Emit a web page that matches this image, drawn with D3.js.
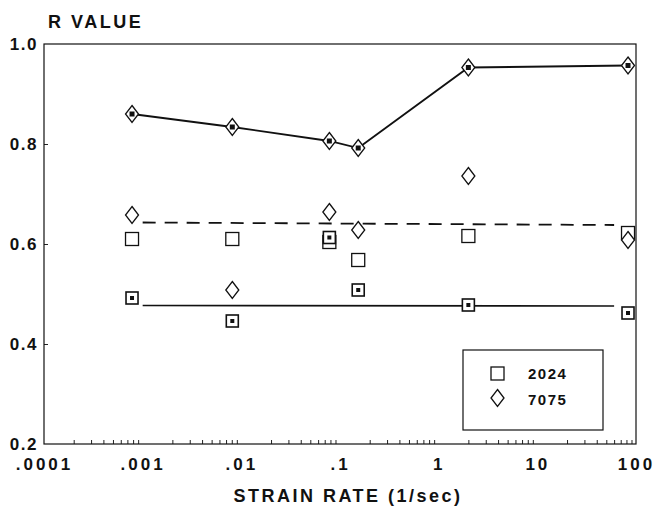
<!DOCTYPE html>
<html>
<head>
<meta charset="utf-8">
<script src="https://cdn.jsdelivr.net/npm/d3@7"></script>
<style>
  body { margin: 0; background: #fff; }
  svg text { font-family: "Liberation Sans", Arial, sans-serif; font-weight: bold; fill: #111; }
</style>
</head>
<body>
<svg id="chart" width="655" height="506"></svg>
<script>

// strain rate (1/sec) of each test group
var strainRate = [0.00078, 0.0081, 0.078, 0.153, 2.0, 83];

// R values
var r7075Upper = [0.86, 0.834, 0.806, 0.792, 0.953, 0.957];
var r7075Lower = [0.658, 0.508, 0.664, 0.628, 0.736, 0.608];
var r2024Upper = [0.61, 0.61, 0.604, 0.568, 0.616, 0.622];
var r2024Lower = [0.492, 0.446, 0.613, 0.508, 0.478, 0.462];

// average lines
var meanX = [0.001, 60];
var mean7075 = [0.643, 0.638];
var mean2024 = [0.477, 0.476];

var xTicks = [0.0001, 0.001, 0.01, 0.1, 1, 10, 100];
var xTickLabels = [".0001", ".001", ".01", ".1", "1", "10", "100"];
var yTicks = [0.2, 0.4, 0.6, 0.8, 1.0];

var legendItems = ["2024", "7075"];

var svg = d3.select("#chart");

var x = d3.scaleLog().domain([0.0001, 100]).range([44, 636]);
var y = d3.scaleLinear().domain([0.2, 1.0]).range([444, 44]);

// minor ticks 2..9 per decade
var minorTicks = [];
xTicks.slice(0, -1).forEach(function(d) {
	for (var k = 2; k <= 9; k++) minorTicks.push(d * k);
});

svg.append("g")
	.attr("transform", "translate(0,444)")
	.call(d3.axisBottom(x).tickValues(minorTicks).tickSize(-4).tickFormat(""))
	.call(function(g) {
		g.select(".domain").remove();
		g.selectAll("line").attr("stroke", "#222");
	});

svg.append("g")
	.attr("transform", "translate(0,444)")
	.call(d3.axisBottom(x).tickValues(xTicks).tickSize(0).tickPadding(14)
		.tickFormat(function(d, i) { return xTickLabels[i]; }))
	.call(function(g) {
		g.select(".domain").remove();
		g.selectAll("text").attr("font-size", 17).attr("letter-spacing", 3)
			.attr("font-family", "Liberation Sans, Arial, sans-serif").attr("font-weight", "bold");
	});

svg.append("g")
	.attr("transform", "translate(44,0)")
	.call(d3.axisLeft(y).tickValues(yTicks).tickSize(-4).tickPadding(6).tickFormat(d3.format(".1f")))
	.call(function(g) {
		g.select(".domain").remove();
		g.selectAll("line").attr("stroke", "#222")
			.filter(function(d) { return d == 0.2 || d == 1.0; }).remove();
		g.selectAll("text").attr("font-size", 17).attr("letter-spacing", 1.5)
			.attr("font-family", "Liberation Sans, Arial, sans-serif").attr("font-weight", "bold");
	});

// frame
svg.append("rect")
	.attr("x", x(0.0001)).attr("y", y(1.0))
	.attr("width", x(100) - x(0.0001)).attr("height", y(0.2) - y(1.0))
	.attr("fill", "none").attr("stroke", "#111").attr("stroke-width", 1.2);

svg.append("text").attr("x", 48).attr("y", 28).attr("font-size", 18)
	.attr("letter-spacing", 2.5).text("R VALUE");
svg.append("text").attr("x", 348).attr("y", 502).attr("text-anchor", "middle")
	.attr("font-size", 18).attr("letter-spacing", 2.5).text("STRAIN RATE (1/sec)");

// lines
var line = d3.line().x(function(d) { return x(d[0]); }).y(function(d) { return y(d[1]); });

svg.append("path")
	.attr("d", line(d3.zip(meanX, mean7075)))
	.attr("fill", "none").attr("stroke", "#111").attr("stroke-width", 1.8)
	.attr("stroke-dasharray", "13,9");

svg.append("path")
	.attr("d", line(d3.zip(meanX, mean2024)))
	.attr("fill", "none").attr("stroke", "#111").attr("stroke-width", 1.6);

svg.append("path")
	.attr("d", line(d3.zip(strainRate, r7075Upper)))
	.attr("fill", "none").attr("stroke", "#111").attr("stroke-width", 1.8);

// markers
var diamond = "M0,-8.5L6.5,0L0,8.5L-6.5,0Z";

var drawDiamonds = function(vals, dot) {
	var g = svg.append("g").selectAll("g").data(d3.zip(strainRate, vals)).join("g")
		.attr("transform", function(d) { return "translate(" + x(d[0]) + "," + y(d[1]) + ")"; });
	g.append("path").attr("d", diamond).attr("fill", "#fff").attr("stroke", "#111").attr("stroke-width", 1.3);
	if (dot) g.append("rect").attr("x", -2.5).attr("y", -2.5).attr("width", 5).attr("height", 5).attr("fill", "#111");
};

var drawSquares = function(vals, dot) {
	var s = dot ? 12 : 13;
	var g = svg.append("g").selectAll("g").data(d3.zip(strainRate, vals)).join("g")
		.attr("transform", function(d) { return "translate(" + x(d[0]) + "," + y(d[1]) + ")"; });
	g.append("rect").attr("x", -s / 2).attr("y", -s / 2).attr("width", s).attr("height", s)
		.attr("fill", "#fff").attr("stroke", "#111").attr("stroke-width", dot ? 1.6 : 1.3);
	if (dot) g.append("rect").attr("x", -2).attr("y", -2).attr("width", 4).attr("height", 4).attr("fill", "#111");
};

drawSquares(r2024Upper, false);
drawSquares(r2024Lower, true);
drawDiamonds(r7075Lower, false);
drawDiamonds(r7075Upper, true);

// legend
var lg = svg.append("g").attr("transform", "translate(463,350)");
lg.append("rect").attr("width", 140).attr("height", 80)
	.attr("fill", "#fff").attr("stroke", "#111").attr("stroke-width", 1.2);
lg.append("rect").attr("x", 28).attr("y", 17).attr("width", 13).attr("height", 13)
	.attr("fill", "#fff").attr("stroke", "#111").attr("stroke-width", 1.3);
lg.append("path").attr("d", diamond).attr("transform", "translate(34.5,48)")
	.attr("fill", "#fff").attr("stroke", "#111").attr("stroke-width", 1.3);
lg.selectAll("text.item").data(legendItems).join("text")
	.attr("class", "item")
	.attr("x", 65).attr("y", function(d, i) { return 29 + i * 26; })
	.attr("font-size", 15).attr("letter-spacing", 1.5).text(function(d) { return d; });

</script>
</body>
</html>
